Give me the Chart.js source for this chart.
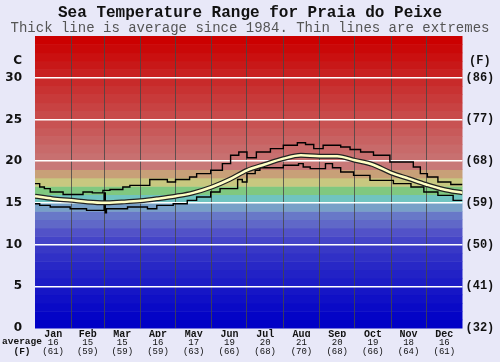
<!DOCTYPE html>
<html lang="en">
<head>
<meta charset="UTF-8" />
<title>Sea Temperature Range for Praia do Peixe</title>
<script src="https://cdn.jsdelivr.net/npm/chart.js"></script>
<style>
  body { margin: 0; background: #e8e8f8; }
  #wrap { width: 500px; height: 362px; }
</style>
</head>
<body>
<div id="wrap"><canvas id="grafico"></canvas></div>
<script>
// months and their labels
const months = ['Jan', 'Feb', 'Mar', 'Apr', 'May', 'Jun', 'Jul', 'Aug', 'Sep', 'Oct', 'Nov', 'Dec'];
const monthStart = [0, 31, 59, 90, 120, 151, 181, 212, 243, 273, 304, 334, 365];
const monthAvgC = [16, 15, 15, 16, 17, 19, 20, 21, 20, 19, 18, 16];
const monthAvgF = [61, 59, 59, 59, 63, 66, 68, 70, 68, 66, 64, 61];

// y axis ticks
const cTicks = [0, 5, 10, 15, 20, 25, 30];
const fTicks = ['(32)', '(41)', '(50)', '(59)', '(68)', '(77)', '(86)'];

// average (thick line), day of year -> C
const avgDay  = [0, 15, 31, 45, 59, 74, 90, 105, 120, 135, 151, 166, 181, 196, 212, 227, 243, 258, 273, 288, 304, 319, 334, 349, 365];
const avgTemp = [15.8, 15.5, 15.3, 15.1, 15.0, 15.1, 15.25, 15.5, 15.8, 16.2, 16.9, 17.8, 18.9, 19.6, 20.3, 20.7, 20.6, 20.6, 20.1, 19.6, 18.6, 17.9, 17.2, 16.6, 16.2];

// extremes (thin step lines)
const maxDay  = [0, 4, 8, 13, 24, 41, 49, 58, 64, 75, 81, 98, 113, 120, 132, 138, 150, 160, 167, 174, 181, 189, 201, 212, 224, 231, 238, 246, 261, 269, 278, 289, 303, 323, 329, 335, 344, 355, 365];
const maxTemp = [17.3, 16.9, 16.7, 16.3, 16.0, 16.3, 16.2, 16.5, 16.6, 16.9, 17.1, 17.8, 17.5, 17.8, 18.1, 18.5, 18.9, 19.7, 20.7, 21.1, 20.4, 21.1, 21.5, 21.9, 22.2, 22.0, 21.5, 21.9, 21.7, 21.4, 21.1, 20.7, 19.9, 19.3, 18.5, 18.1, 17.5, 17.2, 17.2];
const minDay  = [0, 4, 13, 30, 44, 59, 60, 61, 79, 96, 104, 118, 130, 138, 150, 158, 173, 177, 181, 188, 192, 212, 225, 229, 235, 248, 254, 261, 272, 286, 306, 321, 332, 344, 357, 365];
const minTemp = [14.9, 14.7, 14.5, 14.3, 14.1, 16.2, 13.8, 14.3, 14.5, 14.3, 14.7, 14.9, 15.3, 15.7, 16.3, 16.7, 17.8, 17.5, 18.5, 18.9, 19.2, 19.5, 19.7, 19.3, 19.1, 19.7, 19.2, 18.7, 18.3, 17.7, 17.3, 16.9, 16.3, 15.9, 15.3, 15.3];

// background bands, one per degree from 0 up to 35
const bandColours = [
  '#0000c6', '#0404c6', '#0a0ac6', '#1010c6', '#1616c6', '#1c1cc6', '#2222c6', '#2828c6', '#3030c6', '#3838c6',
  '#4444c8', '#5252c8', '#6068c8', '#6878c8', '#78a0c8', '#70c4c0', '#80c880', '#c8c880', '#c8a078', '#c87878',
  '#c87070', '#c86a6a', '#c86262', '#c85a5a', '#c85252', '#c84a4a', '#c84242', '#c83a3a', '#c83232', '#c82a2a',
  '#c82020', '#c81818', '#ca1010', '#ca0808', '#cc0000'
];

const mids = months.map((m, i) => (monthStart[i] + monthStart[i + 1]) / 2);
const inner = monthStart.slice(1, 12);
const xVals = inner.concat(mids).sort((a, b) => a - b);
const yVals = cTicks.concat([32]);

const puntos = (dias, vals) => dias.map((d, i) => ({ x: d, y: vals[i] }));

const mono = 'Liberation Mono, Courier New, monospace';

const fondo = {
  id: 'fondo',
  beforeDraw(chart) {
    const { ctx, chartArea: a, scales: { y } } = chart;
    ctx.save();
    ctx.fillStyle = '#e8e8f8';
    ctx.fillRect(0, 0, chart.width, chart.height);
    bandColours.forEach((c, i) => {
      const top = y.getPixelForValue(i + 1);
      const bot = y.getPixelForValue(i);
      ctx.fillStyle = c;
      ctx.fillRect(a.left, top, a.right - a.left, bot - top + 0.5);
    });
    ctx.restore();
  },
  afterDraw(chart) {
    const { ctx } = chart;
    ctx.save();
    ctx.fillStyle = '#111';
    ctx.font = 'bold 9.5px ' + mono;
    ctx.textAlign = 'center';
    ctx.textBaseline = 'middle';
    ctx.fillText('average', 22, 342);
    ctx.fillText('(F)', 22, 352);
    ctx.restore();
  }
};

const subAxis = (labels, weight, height) => ({
  type: 'linear', min: 0, max: 365, position: 'bottom', weight: weight,
  afterBuildTicks: s => { s.ticks = mids.map(v => ({ value: v })); },
  afterFit: s => { s.height = height; },
  ticks: {
    autoSkip: false, maxRotation: 0, padding: 0, color: '#111',
    font: { family: mono, size: 9 },
    callback: v => labels[mids.indexOf(v)]
  },
  grid: { display: false, drawTicks: false },
  border: { display: false }
});

new Chart(document.getElementById('grafico'), {
  type: 'line',
  data: {
    datasets: [
      { label: 'Average', data: puntos(avgDay, avgTemp), borderColor: '#ffffc4', borderWidth: 2.5,
        pointRadius: 0, cubicInterpolationMode: 'monotone' },
      { label: 'Average edge', data: puntos(avgDay, avgTemp), borderColor: '#222', borderWidth: 5,
        pointRadius: 0, cubicInterpolationMode: 'monotone' },
      { label: 'Max', data: puntos(maxDay, maxTemp), borderColor: '#000', borderWidth: 1.4,
        pointRadius: 0, stepped: true },
      { label: 'Min', data: puntos(minDay, minTemp), borderColor: '#000', borderWidth: 1.4,
        pointRadius: 0, stepped: true }
    ]
  },
  options: {
    responsive: true,
    maintainAspectRatio: false,
    devicePixelRatio: 1,
    animation: false,
    layout: { padding: 0 },
    plugins: {
      legend: { display: false },
      tooltip: { enabled: false },
      title: {
        display: true, text: 'Sea Temperature Range for Praia do Peixe', color: '#111',
        font: { family: mono, size: 16, weight: 'bold', lineHeight: 1 },
        padding: { top: 5, bottom: 0 }
      },
      subtitle: {
        display: true, text: 'Thick line is average since 1984. Thin lines are extremes', color: '#555',
        font: { family: mono, size: 14, lineHeight: 1 },
        padding: { top: 0, bottom: 1 }
      }
    },
    scales: {
      x: {
        type: 'linear', min: 0, max: 365, position: 'bottom', weight: 0,
        afterBuildTicks: s => { s.ticks = xVals.map(v => ({ value: v })); },
        afterFit: s => { s.height = 9; },
        ticks: {
          autoSkip: false, maxRotation: 0, padding: 0, color: '#111',
          font: { family: mono, size: 10, weight: 'bold' },
          callback: v => { const i = mids.indexOf(v); return i < 0 ? '' : months[i]; }
        },
        grid: {
          drawTicks: false, lineWidth: 1,
          color: c => (c.tick && inner.includes(c.tick.value)) ? 'rgba(70,70,70,0.8)' : 'rgba(0,0,0,0)'
        },
        border: { display: false }
      },
      xDay: subAxis(monthAvgC.map(String), 1, 9.5),
      xF: subAxis(monthAvgF.map(v => '(' + v + ')'), 2, 15.5),
      y: {
        min: 0, max: 35, position: 'left',
        afterBuildTicks: s => { s.ticks = yVals.map(v => ({ value: v })); },
        afterFit: s => { s.width = 35; },
        ticks: {
          padding: 13, color: '#111',
          font: { family: 'DejaVu Sans', size: 12, weight: 'bold' },
          callback: v => v === 32 ? 'C' : String(v)
        },
        grid: {
          drawTicks: false, lineWidth: 1.5,
          color: c => (c.tick && c.tick.value > 0 && c.tick.value <= 30) ? '#ffffff' : 'rgba(0,0,0,0)'
        },
        border: { display: false }
      },
      y2: {
        min: 0, max: 35, position: 'right',
        afterBuildTicks: s => { s.ticks = yVals.map(v => ({ value: v })); },
        afterFit: s => { s.width = 37.5; },
        ticks: {
          padding: 3, crossAlign: 'center', color: '#111',
          font: { family: mono, size: 12, weight: 'bold' },
          callback: v => v === 32 ? '(F)' : fTicks[cTicks.indexOf(v)]
        },
        grid: { display: false, drawTicks: false },
        border: { display: false }
      }
    }
  },
  plugins: [fondo]
});
</script>
</body>
</html>
